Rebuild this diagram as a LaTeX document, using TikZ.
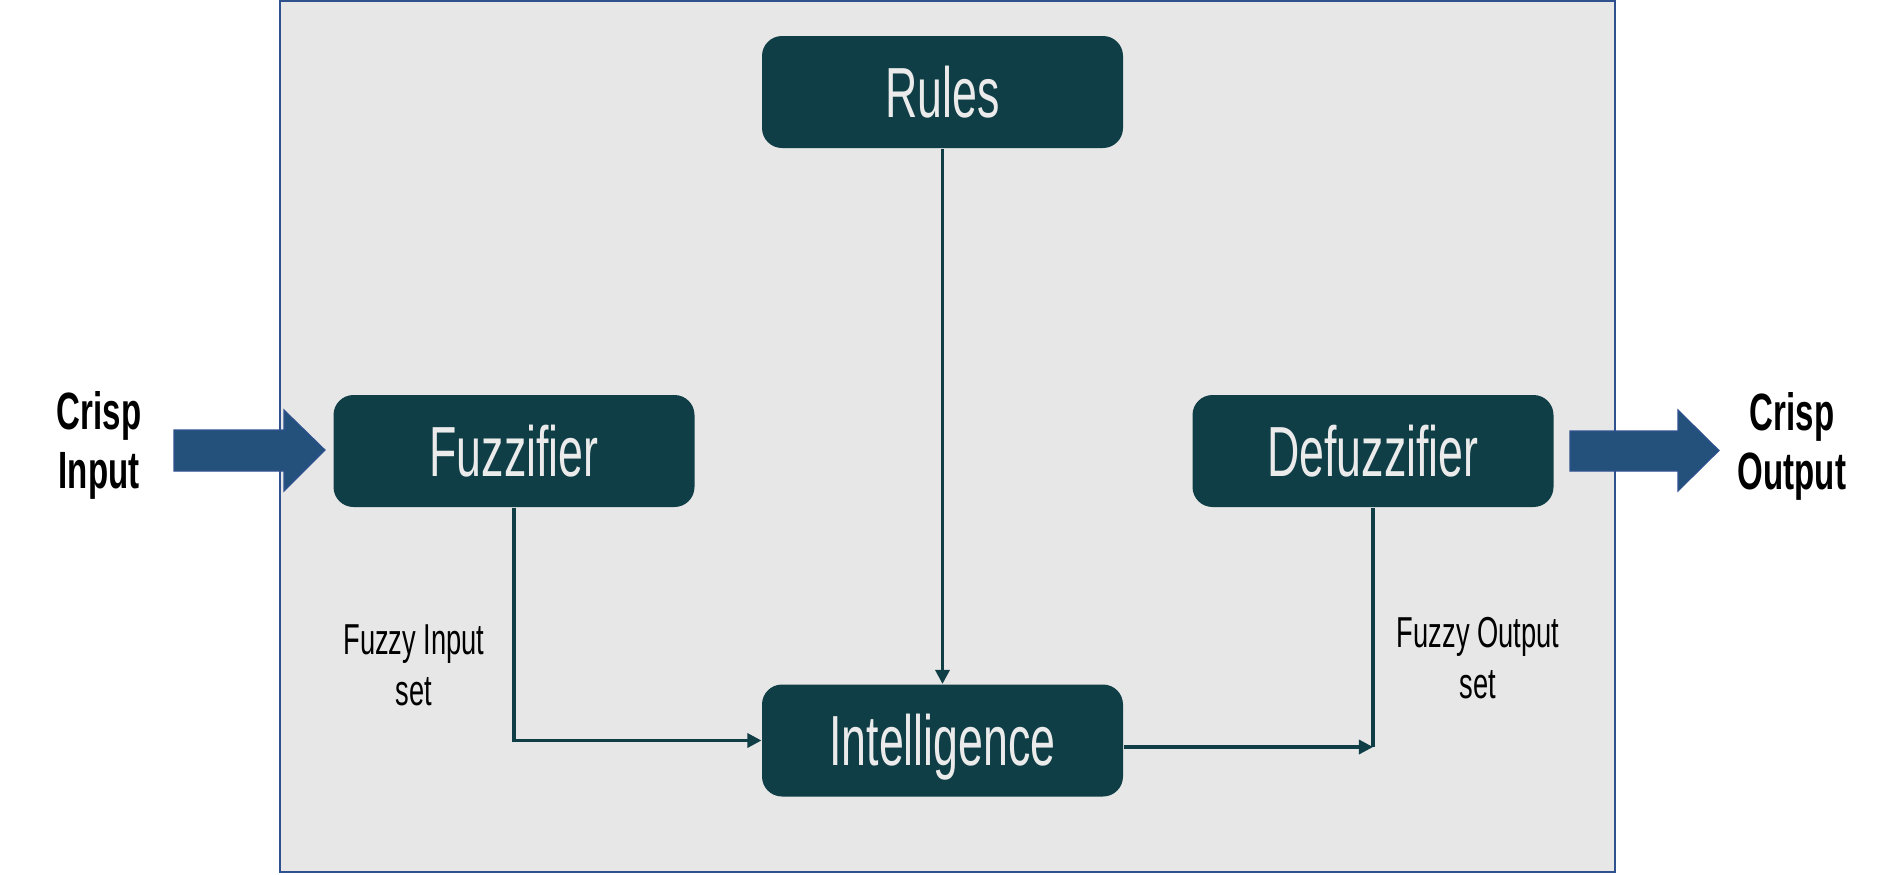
\documentclass[tikz,border=0pt]{standalone}
\usepackage{fontspec}
\setmainfont{Liberation Sans}[FakeStretch=0.63]
\usetikzlibrary{arrows.meta,positioning}
\definecolor{boxteal}{HTML}{0F3E46}
\definecolor{boxtext}{HTML}{EBEBEB}
\definecolor{framegray}{HTML}{E7E7E7}
\definecolor{frameblue}{HTML}{2F528F}
\definecolor{arrowblue}{HTML}{24507C}
\begin{document}
\begin{tikzpicture}[x=0.25mm, y=-0.25mm, thick,
    main/.style = {fill=boxteal, rounded corners=5mm, minimum width=90.25mm, minimum height=28mm, text=boxtext, inner sep=0pt, text height=36pt, text depth=0pt, font=\fontsize{50.5}{60}\selectfont},
    lbl/.style = {align=center, inner sep=0pt, font=\fontsize{30.8}{36.3}\selectfont},
    crisp/.style = {align=center, inner sep=0pt, font=\bfseries\fontsize{37.3}{42}\selectfont},
    wire/.style = {draw=boxteal, line width=2.3pt},
    link/.style = {wire, -{Triangle[length=10pt,width=10pt]}},
    fat/.style = {fill=arrowblue, draw=frameblue, line width=0.8pt}]
  \useasboundingbox (0,0) rectangle (1890,874);
  \draw[fill=framegray, draw=frameblue, line width=1.4pt] (280,1) rectangle (1615,872);
  \node[main] (rules) at (942.5,92) {Rules};
  \node[main] (fuzz) at (514,451) {Fuzzifier};
  \node[main] (defuzz) at (1373,451) {Defuzzifier};
  \node[main] (intel) at (942.5,740.5) {Intelligence};
  \node[crisp] (cin) at (99,445.5) {Crisp\\Input};
  \node[crisp] (cout) at (1792,446.5) {Crisp\\Output};
  \node[lbl] (fin) at (414,665) {Fuzzy Input\\set};
  \node[lbl] (fout) at (1478,658) {Fuzzy Output\\set};
  \coordinate (out) at (1373,747);
  % big input / output arrows
  \draw[fat] (174,430) -- (284,430) -- (284,410) -- (325,450) -- (284,491) -- (284,471) -- (174,471) -- cycle;
  \draw[fat] (1570,431) -- (1678,431) -- (1678,410) -- (1719,450.5) -- (1678,491) -- (1678,471) -- (1570,471) -- cycle;
  \draw[link] (rules) -- (intel);
  \draw[link] (fuzz) |- (intel);
  \draw[link] (intel.east |- out) -- (out);
  \draw[wire] (defuzz) -- (defuzz |- out);
\end{tikzpicture}
\end{document}
